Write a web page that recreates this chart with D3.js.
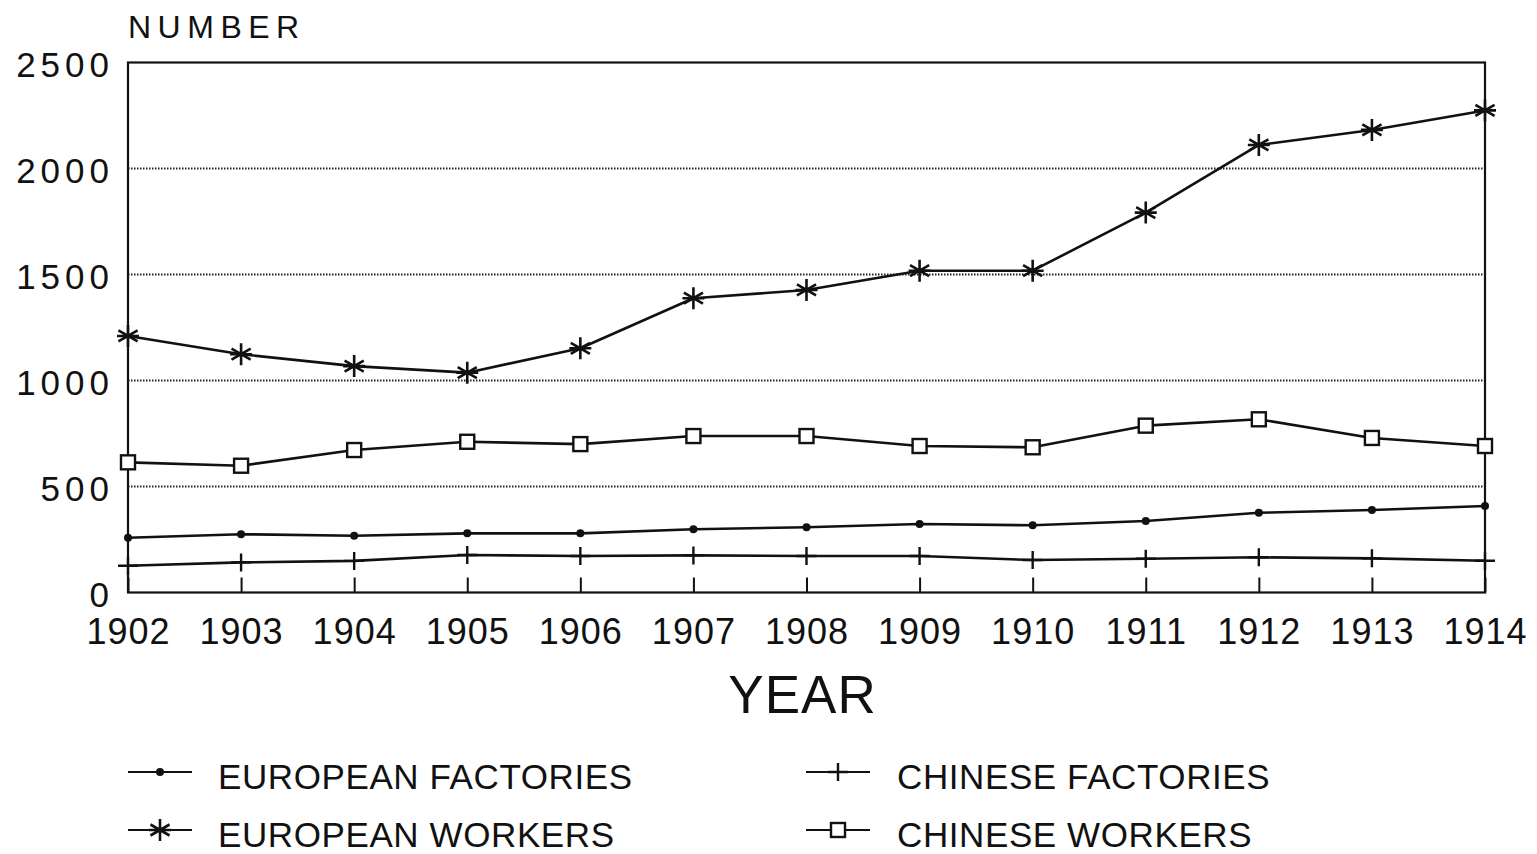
<!DOCTYPE html>
<html>
<head>
<meta charset="utf-8">
<script src="https://cdn.jsdelivr.net/npm/d3@7"></script>
<style>
  html, body { margin: 0; padding: 0; background: #fff; }
  svg { display: block; }
  text { font-family: "Liberation Sans", Arial, sans-serif; fill: #111; }
</style>
</head>
<body>
<svg id="chart" width="1537" height="854"></svg>
<script>
// ---- data ----
const years = [1902, 1903, 1904, 1905, 1906, 1907, 1908, 1909, 1910, 1911, 1912, 1913, 1914];
const europeanFactories = [258, 275, 268, 279, 279, 298, 308, 323, 317, 337, 376, 389, 408];
const chineseFactories  = [126, 142, 149, 177, 172, 175, 172, 172, 153, 159, 166, 161, 150];
const europeanWorkers   = [1210, 1124, 1068, 1037, 1152, 1388, 1427, 1518, 1518, 1792, 2111, 2182, 2274];
const chineseWorkers    = [614, 598, 672, 711, 700, 738, 738, 691, 685, 787, 817, 729, 691];
const yTicks = [0, 500, 1000, 1500, 2000, 2500];
const gridTicks = [500, 1000, 1500, 2000];
const seriesNames = ["EUROPEAN FACTORIES", "EUROPEAN WORKERS", "CHINESE FACTORIES", "CHINESE WORKERS"];
const yTitle = "NUMBER";
const xTitle = "YEAR";

const series = [
  { name: seriesNames[0], values: europeanFactories, marker: "dot" },
  { name: seriesNames[1], values: europeanWorkers, marker: "star" },
  { name: seriesNames[2], values: chineseFactories, marker: "plus" },
  { name: seriesNames[3], values: chineseWorkers, marker: "square" }
];

// ---- layout ----
const L = 128, R = 1485, T = 62.5, B = 592.5;
const x = d3.scaleLinear().domain([1902, 1914]).range([L, R]);
const y = d3.scaleLinear().domain([0, 2500]).range([B, T]);

const svg = d3.select("#chart");

// gridlines (dotted)
svg.append("g").selectAll("line").data(gridTicks).join("line")
  .attr("x1", L).attr("x2", R)
  .attr("y1", d => y(d)).attr("y2", d => y(d))
  .attr("stroke", "#222").attr("stroke-width", 1.8)
  .attr("stroke-dasharray", "1.5,1.5");

// x axis with inward ticks
const xAxis = d3.axisBottom(x)
  .tickValues(years)
  .tickFormat(d3.format("d"))
  .tickSizeInner(-15).tickSizeOuter(0).tickPadding(26);
const gx = svg.append("g").attr("transform", `translate(0,${B})`).call(xAxis);
gx.select(".domain").remove();
gx.selectAll(".tick line").attr("stroke", "#111").attr("stroke-width", 2);
gx.selectAll(".tick text")
  .attr("font-size", 36).attr("letter-spacing", 1)
  .attr("font-family", "Liberation Sans, Arial, sans-serif")
  .attr("fill", "#111");

// y axis labels
const yAxis = d3.axisLeft(y).tickValues(yTicks).tickFormat(d3.format("d"))
  .tickSize(0).tickPadding(14);
const gy = svg.append("g").attr("transform", `translate(${L},0)`).call(yAxis);
gy.select(".domain").remove();
gy.selectAll(".tick text")
  .attr("font-size", 35).attr("letter-spacing", 5)
  .attr("font-family", "Liberation Sans, Arial, sans-serif")
  .attr("fill", "#111").attr("dy", "0.40em");

// frame
svg.append("rect")
  .attr("x", L).attr("y", T).attr("width", R - L).attr("height", B - T)
  .attr("fill", "none").attr("stroke", "#111").attr("stroke-width", 2.2);

// titles
svg.append("text").attr("x", L).attr("y", 38)
  .attr("font-size", 32).attr("letter-spacing", 6.5).text(yTitle);
svg.append("text").attr("x", (L + R) / 2 - 4).attr("y", 713)
  .attr("text-anchor", "middle").attr("font-size", 53).attr("letter-spacing", 1)
  .text(xTitle);

// marker drawing
function drawMarker(g, type) {
  if (type === "dot") {
    g.append("circle").attr("r", 4).attr("fill", "#111");
  } else if (type === "square") {
    g.append("rect").attr("x", -7).attr("y", -7).attr("width", 14).attr("height", 14)
      .attr("fill", "#fff").attr("stroke", "#111").attr("stroke-width", 2.4);
  } else if (type === "plus") {
    g.append("path").attr("d", "M0,-9V9M-10,0H10")
      .attr("stroke", "#111").attr("stroke-width", 2.4).attr("fill", "none");
  } else if (type === "star") {
    const r = 11, a = r * 0.87, b = r * 0.5;
    g.append("path")
      .attr("d", `M0,${-r}V${r}M${-a},${-b}L${a},${b}M${-a},${b}L${a},${-b}M${-r},0H${r}`)
      .attr("stroke", "#111").attr("stroke-width", 2.6).attr("fill", "none");
  }
}

const line = d3.line().x((d, i) => x(years[i])).y(d => y(d));

series.forEach(s => {
  svg.append("path").datum(s.values)
    .attr("d", line)
    .attr("fill", "none").attr("stroke", "#111").attr("stroke-width", 2.6)
    .attr("stroke-linejoin", "round");
  svg.append("g").selectAll("g").data(s.values).join("g")
    .attr("transform", (d, i) => `translate(${x(years[i])},${y(d)})`)
    .each(function () { drawMarker(d3.select(this), s.marker); });
});

// legend
const legendPos = [
  { sx: 128, tx: 218, y: 776 },
  { sx: 128, tx: 218, y: 834 },
  { sx: 806, tx: 897, y: 776 },
  { sx: 806, tx: 897, y: 834 }
];
series.forEach((s, i) => {
  const p = legendPos[i];
  const g = svg.append("g");
  g.append("line").attr("x1", p.sx).attr("x2", p.sx + 64)
    .attr("y1", p.y - 4).attr("y2", p.y - 4)
    .attr("stroke", "#111").attr("stroke-width", 2);
  const m = g.append("g").attr("transform", `translate(${p.sx + 32},${p.y - 4})`);
  drawMarker(m, s.marker);
  g.append("text").attr("x", p.tx).attr("y", p.y + 13)
    .attr("font-size", 35).attr("letter-spacing", 0.6).text(s.name);
});
</script>
</body>
</html>
